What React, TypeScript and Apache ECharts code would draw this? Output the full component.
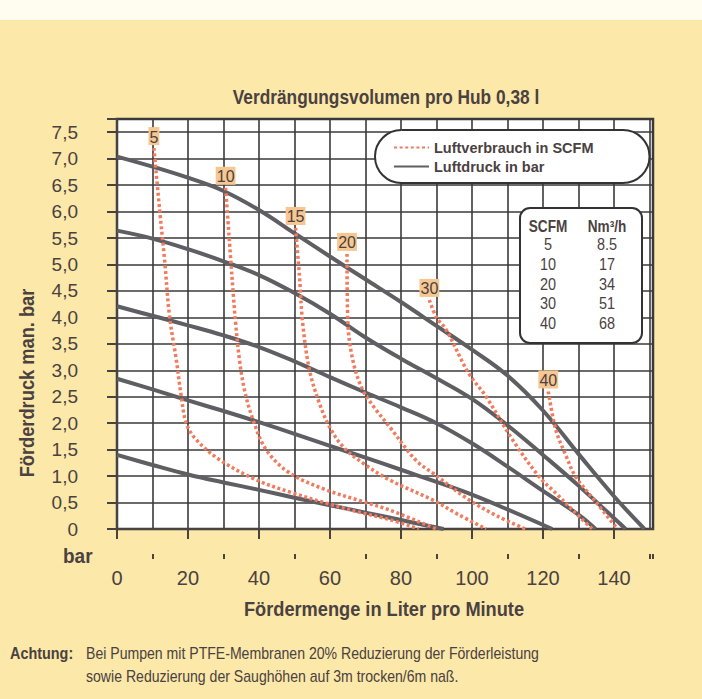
import React, { useEffect, useRef } from "react";
import * as echarts from "echarts";

const FONT = "'Liberation Sans', Arial, 'DejaVu Sans', sans-serif";
const TEXT = "#4a4141";
const RED = "#f07b5f";
const GRAY = "#5e5e63";
const GRID_LINE = "#3a3a3a";

const X_MAX = 151;
const Y_MAX = 7.75;
const xMajorTicks = [0, 20, 40, 60, 80, 100, 120, 140];
const xMinorTicks = [10, 30, 50, 70, 90, 110, 130, 150, 151];
const yLabelTicks = [0, 0.5, 1, 1.5, 2, 2.5, 3, 3.5, 4, 4.5, 5, 5.5, 6, 6.5, 7, 7.5];
const yAxisTicks = [...yLabelTicks, 7.75];

// Luftdruck (bar) curves
const p70 = [[0, 7.04], [10, 6.85], [20, 6.64], [30, 6.39], [40, 6.03], [50, 5.59], [60, 5.15], [70, 4.72], [80, 4.29], [90, 3.84], [100, 3.39], [110, 2.9], [120, 2.24], [130, 1.42], [140, 0.62], [148.6, 0]];
const p56 = [[0, 5.64], [10, 5.49], [20, 5.29], [30, 5.06], [40, 4.8], [50, 4.46], [60, 4.07], [70, 3.62], [80, 3.22], [90, 2.85], [100, 2.46], [110, 1.96], [120, 1.4], [130, 0.82], [143.3, 0]];
const p42 = [[0, 4.21], [10, 4.03], [20, 3.85], [30, 3.66], [40, 3.44], [50, 3.17], [60, 2.87], [70, 2.58], [80, 2.3], [90, 2.0], [100, 1.62], [110, 1.18], [120, 0.72], [130, 0.27], [134.8, 0]];
const p28 = [[0, 2.84], [10, 2.64], [20, 2.43], [30, 2.23], [40, 2.02], [50, 1.8], [60, 1.57], [70, 1.35], [80, 1.12], [90, 0.89], [100, 0.65], [110, 0.37], [122.6, 0]];
const p14 = [[0, 1.4], [10, 1.21], [20, 1.03], [30, 0.88], [40, 0.74], [50, 0.59], [60, 0.45], [70, 0.31], [80, 0.17], [92, 0]];
const pressureCurves = [p70, p56, p42, p28, p14];

// Luftverbrauch (SCFM) curves
const s5 = [[10.4, 7.2], [12, 6.04], [13.4, 5.09], [14.8, 4.02], [16.7, 3.2], [18.1, 2.51], [19.5, 2.0], [22.3, 1.69], [28.9, 1.31], [39.2, 0.93], [49.5, 0.68], [58.9, 0.49], [69.2, 0.3], [76.7, 0.18], [85, 0]];
const s10 = [[30.6, 6.45], [31.7, 5.41], [32.8, 4.4], [33.4, 3.9], [34.5, 3.2], [35.9, 2.63], [38.3, 2.07], [42, 1.5], [48.6, 1.06], [58.9, 0.74], [69.2, 0.52], [76.7, 0.36], [90, 0]];
const s15 = [[50.3, 5.69], [51.4, 4.78], [52.3, 3.9], [54.2, 3.01], [57, 2.38], [59.8, 1.94], [63.6, 1.56], [69.2, 1.25], [76.7, 0.93], [88.9, 0.55], [96, 0.28], [104, 0]];
const s20 = [[64.8, 5.2], [65, 3.96], [66.4, 3.2], [69.2, 2.63], [73, 2.25], [76.7, 1.94], [84.2, 1.3], [88.9, 1.06], [99.2, 0.55], [107, 0.25], [115, 0]];
const s30 = [[88, 4.33], [90, 4.0], [92.7, 3.77], [99, 2.95], [103.9, 2.51], [111.4, 1.69], [118.9, 0.99], [123.6, 0.68], [128.3, 0.36], [133.9, 0]];
const s40 = [[121.5, 2.6], [123.6, 1.88], [126.4, 1.4], [129.2, 0.99], [134.8, 0.52], [141, 0]];
const scfmCurves = [s5, s10, s15, s20, s30, s40];
const scfmCurveLabels = ["5", "10", "15", "20", "30", "40"];

const tableScfm = ["5", "10", "20", "30", "40"];
const tableNm3h = ["8.5", "17", "34", "51", "68"];

const LEGEND_RED = "Luftverbrauch in SCFM";
const LEGEND_GRAY = "Luftdruck in bar";

function txt(
  text: string,
  x: number,
  y: number,
  size: number,
  bold: boolean,
  align: string,
  sx: number,
  extra: any = {}
) {
  return {
    type: "text",
    x,
    y,
    scaleX: sx,
    z: 20,
    ...extra,
    style: {
      text,
      align,
      verticalAlign: "middle",
      fill: TEXT,
      font: `${bold ? "bold " : ""}${size}px ${FONT}`,
    },
  };
}

function buildOption() {
  const graySeries = pressureCurves.map((d) => ({
    type: "line",
    name: LEGEND_GRAY,
    data: d,
    xAxisIndex: 0,
    yAxisIndex: 0,
    symbol: "none",
    smooth: 0.4,
    lineStyle: { color: GRAY, width: 4 },
    itemStyle: { color: GRAY },
    z: 3,
  }));
  const redSeries = scfmCurves.map((d, k) => ({
    type: "line",
    name: LEGEND_RED,
    data: d.map((p, i) =>
      i === 0
        ? {
            value: p,
            label: {
              show: true,
              position: "top",
              distance: 3,
              formatter: scfmCurveLabels[k],
              backgroundColor: "#f6c790",
              padding: [2, 1, 0, 1],
              color: TEXT,
              fontFamily: FONT,
              fontSize: 16,
            },
          }
        : p
    ),
    xAxisIndex: 0,
    yAxisIndex: 0,
    symbol: "circle",
    symbolSize: 0,
    showSymbol: true,
    showAllSymbol: true,
    smooth: 0.35,
    lineStyle: { color: RED, width: 3.5, type: [3, 2.6] },
    itemStyle: { color: RED },
    label: { show: false },
    z: 4,
  }));

  const tableChildren: any[] = [
    {
      type: "rect",
      z: 19,
      shape: { x: 0, y: 0, width: 122, height: 135, r: 10 },
      style: { fill: "#fff", stroke: "#333", lineWidth: 2 },
    },
    txt("SCFM", 28, 19, 16, true, "center", 0.85),
    txt("Nm³/h", 87, 19, 16, true, "center", 0.85),
  ];
  tableScfm.forEach((v, i) => {
    tableChildren.push(txt(v, 28, 36.5 + i * 19.6, 17, false, "center", 0.85));
    tableChildren.push(txt(tableNm3h[i], 87, 36.5 + i * 19.6, 17, false, "center", 0.85));
  });

  return {
    animation: false,
    backgroundColor: "#fce8a8",
    textStyle: { fontFamily: FONT },
    grid: {
      left: 117,
      top: 119,
      width: 536,
      height: 410,
      show: true,
      backgroundColor: "#ffffff",
      borderColor: GRID_LINE,
      borderWidth: 2.5,
      containLabel: false,
    },
    legend: {
      data: [LEGEND_RED, LEGEND_GRAY],
      orient: "vertical",
      left: 375,
      top: 130,
      padding: [10, 56, 9, 18],
      itemWidth: 35,
      itemHeight: 12,
      itemGap: 4,
      backgroundColor: "#fff",
      borderColor: "#333",
      borderWidth: 2,
      borderRadius: 27,
      itemStyle: { opacity: 0 },
      textStyle: { fontFamily: FONT, fontWeight: "bold", fontSize: 14.5, color: TEXT },
      selectedMode: false,
    },
    xAxis: [
      {
        type: "value",
        min: 0,
        max: X_MAX,
        interval: 10,
        axisLine: { show: false },
        axisTick: { show: false },
        axisLabel: { show: false },
        splitLine: { show: true, lineStyle: { color: GRID_LINE, width: 1.6 } },
      },
      {
        type: "value",
        min: 0,
        max: X_MAX,
        position: "bottom",
        offset: 25,
        axisLine: { show: true, lineStyle: { color: TEXT, width: 2 } },
        axisTick: { show: true, customValues: xMajorTicks, length: 10, lineStyle: { color: TEXT, width: 2 } },
        axisLabel: { show: true, customValues: xMajorTicks, margin: 14, fontSize: 20, color: TEXT, fontFamily: FONT },
        splitLine: { show: false },
      },
      {
        type: "value",
        min: 0,
        max: X_MAX,
        position: "bottom",
        offset: 25,
        axisLine: { show: false },
        axisTick: { show: true, customValues: xMinorTicks, length: 5, lineStyle: { color: TEXT, width: 2 } },
        axisLabel: { show: false },
        splitLine: { show: false },
      },
    ],
    yAxis: [
      {
        type: "value",
        min: 0,
        max: Y_MAX,
        interval: 0.5,
        axisLine: { show: false },
        axisTick: { show: false },
        axisLabel: { show: false },
        splitLine: { show: true, lineStyle: { color: GRID_LINE, width: 1.6 } },
      },
      {
        type: "value",
        min: 0,
        max: Y_MAX,
        position: "left",
        offset: 22,
        axisLine: { show: true, lineStyle: { color: TEXT, width: 2 } },
        axisTick: { show: true, customValues: yAxisTicks, length: 10, lineStyle: { color: TEXT, width: 2 } },
        axisLabel: {
          show: true,
          customValues: yLabelTicks,
          margin: 17,
          fontSize: 19,
          color: TEXT,
          fontFamily: FONT,
          formatter: (v: number) => (v === 0 ? "0" : v.toFixed(1).replace(".", ",")),
        },
        splitLine: { show: false },
      },
    ],
    graphic: [
      { type: "rect", left: 0, top: 0, z: -1, shape: { width: 702, height: 20 }, style: { fill: "#fffcf0" } },
      txt("Verdrängungsvolumen pro Hub 0,38 l", 386, 97, 20, true, "center", 0.865),
      txt("Förderdruck man. bar", 27, 383, 21, true, "center", 0.87, { rotation: Math.PI / 2 }),
      txt("bar", 63, 556, 20, true, "left", 0.95),
      txt("Fördermenge in Liter pro Minute", 384, 609, 21, true, "center", 0.867),
      txt("Achtung:", 10, 653, 16, true, "left", 0.9),
      txt("Bei Pumpen mit PTFE-Membranen 20% Reduzierung der Förderleistung", 86, 653, 16, false, "left", 0.88),
      txt("sowie Reduzierung der Saughöhen auf 3m trocken/6m naß.", 86, 676, 16, false, "left", 0.88),
      { type: "group", x: 520, y: 208, z: 19, children: tableChildren },
    ],
    series: [...graySeries, ...redSeries],
  };
}

export default function App() {
  const ref = useRef<HTMLDivElement>(null);
  useEffect(() => {
    if (!ref.current) return;
    const chart = echarts.init(ref.current, null, { renderer: "svg" });
    chart.setOption(buildOption() as any);
    return () => chart.dispose();
  }, []);
  return <div ref={ref} style={{ position: "fixed", left: 0, top: 0, width: 702, height: 699 }} />;
}
